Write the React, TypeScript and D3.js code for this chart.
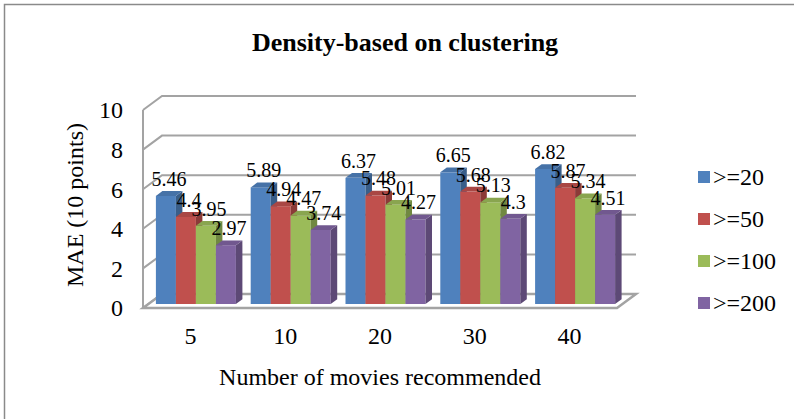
import React from "react";
import * as d3 from "d3";

// chart data
const categories = ["5", "10", "20", "30", "40"];
const seriesNames = [">=20", ">=50", ">=100", ">=200"];
const s20 = [5.46, 5.89, 6.37, 6.65, 6.82];
const s50 = [4.4, 4.94, 5.48, 5.68, 5.87];
const s100 = [3.95, 4.47, 5.01, 5.13, 5.34];
const s200 = [2.97, 3.74, 4.27, 4.3, 4.51];
const yTicks = [0, 2, 4, 6, 8, 10];
const colors = ["#4F81BD", "#C0504D", "#9BBB59", "#8064A2"];

const W = 794;
const H = 419;
const FONT = "'Liberation Serif', 'Times New Roman', serif";

export default function App() {
  const series = [s20, s50, s100, s200];

  // floor / wall geometry (front plane + depth offset)
  const left = 143;
  const right = 617;
  const depthX = 19;
  const depthY = -14;

  const xBand = d3.scaleBand<string>().domain(categories).range([left, right]).padding(0);
  const inner = d3
    .scaleBand<string>()
    .domain(seriesNames)
    .range([7.4, xBand.bandwidth() - 7.4])
    .padding(0);
  const yFront = d3.scaleLinear().domain([0, 10]).range([308, 110]);
  const yBack = (v: number) => yFront(v) + depthY;

  // bars sit a little behind the front edge
  const barShiftX = 5.5;
  const barShiftY = -4;
  const bdx = 6.5;
  const bdy = -4.8;

  const bars: any[] = [];
  const labels: any[] = [];
  categories.forEach((cat, ci) => {
    seriesNames.forEach((name, si) => {
      const v = series[si][ci];
      const x0 = (xBand(cat) as number) + (inner(name) as number) + barShiftX;
      const w = inner.bandwidth();
      const yb = yFront(0) + barShiftY;
      const yt = yFront(v) + barShiftY;
      const c = d3.color(colors[si])!;
      const side = c.darker(0.9).formatHex();
      const top = c.darker(0.35).formatHex();
      bars.push(
        <g key={`${cat}-${name}`}>
          <rect x={x0} y={yt} width={w} height={yb - yt} fill={colors[si]} />
          <polygon
            points={`${x0 + w},${yt} ${x0 + w + bdx},${yt + bdy} ${x0 + w + bdx},${yb + bdy} ${x0 + w},${yb}`}
            fill={side}
          />
          <polygon
            points={`${x0},${yt} ${x0 + bdx},${yt + bdy} ${x0 + w + bdx},${yt + bdy} ${x0 + w},${yt}`}
            fill={top}
          />
        </g>
      );
      labels.push(
        <text
          key={`l-${cat}-${name}`}
          x={x0 + w / 2 + 3}
          y={yt - 10}
          textAnchor="middle"
          fontSize={20}
          fontFamily={FONT}
          fill="#000"
        >
          {String(v)}
        </text>
      );
    });
  });

  const grid = "#a3a3a3";

  return (
    <svg
      width={W}
      height={H}
      style={{ position: "absolute", left: 0, top: 0, background: "#fff" }}
    >
      <rect x={0} y={0} width={W} height={H} fill="#fff" />
      {/* outer chart border */}
      <rect x={4.5} y={4.5} width={W + 10} height={H + 10} fill="none" stroke="#8a8a8a" strokeWidth={1.5} />

      {/* title */}
      <text x={405} y={51} textAnchor="middle" fontSize={26} fontWeight="bold" fontFamily={FONT}>
        Density-based on clustering
      </text>

      {/* gridlines on side wall + back wall */}
      <line x1={left} y1={yFront(0)} x2={left} y2={yFront(10)} stroke={grid} strokeWidth={2} />
      {yTicks.map((t) => (
        <polyline
          key={`g-${t}`}
          points={`${left},${yFront(t)} ${left + depthX},${yBack(t)} ${right + depthX},${yBack(t)}`}
          fill="none"
          stroke={grid}
          strokeWidth={2}
        />
      ))}
      {/* floor */}
      <polygon
        points={`${left},${yFront(0)} ${right},${yFront(0)} ${right + depthX},${yBack(0)} ${left + depthX},${yBack(0)}`}
        fill="#fff"
        stroke={grid}
        strokeWidth={2.5}
      />

      {bars}
      {labels}

      {/* y tick labels */}
      {yTicks.map((t) => (
        <text
          key={`yt-${t}`}
          x={123}
          y={yFront(t)}
          dy="0.35em"
          textAnchor="end"
          fontSize={24}
          fontFamily={FONT}
        >
          {t}
        </text>
      ))}

      {/* x tick labels */}
      {categories.map((c) => (
        <text
          key={`xt-${c}`}
          x={(xBand(c) as number) + xBand.bandwidth() / 2}
          y={344}
          textAnchor="middle"
          fontSize={24}
          fontFamily={FONT}
        >
          {c}
        </text>
      ))}

      {/* axis titles */}
      <text
        transform={`translate(83,205) rotate(-90)`}
        textAnchor="middle"
        fontSize={24}
        fontFamily={FONT}
      >
        MAE (10 points)
      </text>
      <text x={380} y={385} textAnchor="middle" fontSize={24} fontFamily={FONT}>
        Number of movies recommended
      </text>

      {/* legend */}
      {seriesNames.map((n, i) => (
        <g key={`lg-${n}`} transform={`translate(698,${177 + i * 42})`}>
          <rect x={0} y={-6} width={12} height={12} fill={colors[i]} />
          <text x={15} y={0} dy="0.35em" fontSize={24} fontFamily={FONT}>
            {n}
          </text>
        </g>
      ))}
    </svg>
  );
}
